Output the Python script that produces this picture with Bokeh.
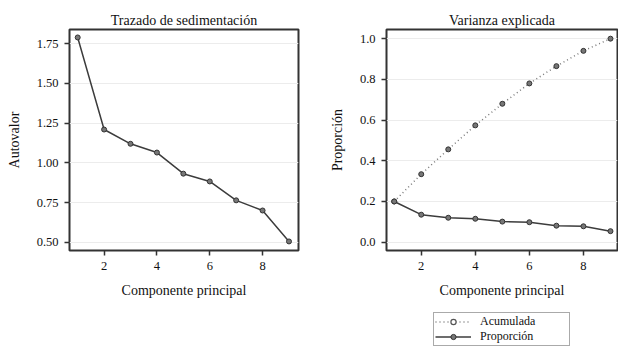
from bokeh.plotting import figure
from bokeh.layouts import row, column
from bokeh.models import Range1d, FixedTicker, Legend, LegendItem, NumeralTickFormatter
from bokeh.embed import file_html
from bokeh.resources import INLINE

componentes = [1, 2, 3, 4, 5, 6, 7, 8, 9]
autovalor = [1.79, 1.21, 1.12, 1.065, 0.932, 0.883, 0.764, 0.70, 0.505]
proporcion = [0.200, 0.135, 0.120, 0.115, 0.101, 0.098, 0.081, 0.078, 0.054]
acumulada = [0.200, 0.334, 0.456, 0.574, 0.680, 0.780, 0.865, 0.940, 1.000]

x_ticks = [2, 4, 6, 8]
y1_ticks = [0.50, 0.75, 1.00, 1.25, 1.50, 1.75]
y2_ticks = [0.0, 0.2, 0.4, 0.6, 0.8, 1.0]

titulo1 = "Trazado de sedimentación"
titulo2 = "Varianza explicada"
eje_x = "Componente principal"
eje_y1 = "Autovalor"
eje_y2 = "Proporción"
serie_acum = "Acumulada"
serie_prop = "Proporción"

FONT = "Liberation Serif"
DARK = "#333333"
LINE = "#3c3c3c"
DOT = "#7a7a7a"
MFILL = "#777777"


def style(p, xlab, ylab, yfmt):
    p.outline_line_color = DARK
    p.outline_line_width = 2
    p.xgrid.grid_line_color = None
    p.ygrid.grid_line_color = "#ececec"
    p.background_fill_color = "white"
    p.border_fill_color = "white"
    p.title.text_font = FONT
    p.title.text_font_size = "14px"
    p.title.text_font_style = "normal"
    p.title.align = "center"
    p.title.text_color = "#111111"
    p.title.standoff = 3
    p.xaxis.ticker = FixedTicker(ticks=x_ticks)
    p.xaxis.axis_label = xlab
    p.yaxis.axis_label = ylab
    p.yaxis.formatter = NumeralTickFormatter(format=yfmt)
    for ax in (p.xaxis[0], p.yaxis[0]):
        ax.axis_line_color = None
        ax.major_tick_line_color = DARK
        ax.major_tick_line_width = 1.5
        ax.major_tick_out = 5
        ax.major_tick_in = 0
        ax.minor_tick_line_color = None
        ax.major_label_text_font = FONT
        ax.major_label_text_font_size = "12.5px"
        ax.major_label_text_color = "#111111"
        ax.major_label_standoff = 6
        ax.axis_label_text_font = FONT
        ax.axis_label_text_font_size = "14px"
        ax.axis_label_text_font_style = "normal"
        ax.axis_label_text_color = "#111111"
    p.xaxis.axis_label_standoff = 10
    p.yaxis.axis_label_standoff = 12


p1 = figure(width=310, height=347, x_range=Range1d(0.69, 9.36), y_range=Range1d(0.448, 1.84),
            min_border_left=69, min_border_right=12, min_border_top=29, min_border_bottom=97,
            output_backend="svg", toolbar_location=None, title=titulo1)
style(p1, eje_x, eje_y1, "0.00")
p1.yaxis.ticker = FixedTicker(ticks=y1_ticks)
p1.line(componentes, autovalor, line_color=LINE, line_width=1.5)
p1.scatter(componentes, autovalor, size=5, fill_color=MFILL, line_color=DARK, line_width=1)

p2 = figure(width=308, height=310, x_range=Range1d(0.715, 9.26), y_range=Range1d(-0.041, 1.045),
            min_border_left=76, min_border_right=1, min_border_top=29, min_border_bottom=60,
            output_backend="svg", toolbar_location=None, title=titulo2)
style(p2, eje_x, eje_y2, "0.0")
p2.yaxis.ticker = FixedTicker(ticks=y2_ticks)
p2.line(componentes, acumulada, line_color=DOT, line_width=1.5, line_dash="1 3")
p2.scatter(componentes, acumulada, size=5, fill_color=MFILL, line_color=DARK, line_width=1)
p2.line(componentes, proporcion, line_color=LINE, line_width=1.5)
p2.scatter(componentes, proporcion, size=5, fill_color=MFILL, line_color=DARK, line_width=1)

# legend panel below the right chart: its own renderers hold the series
# values but sit outside the visible range, so only the legend keys show
p3 = figure(width=308, height=37, x_range=Range1d(100, 101), y_range=Range1d(100, 101),
            min_border_left=0, min_border_right=0, min_border_top=0, min_border_bottom=0,
            output_backend="svg", toolbar_location=None, x_axis_type=None, y_axis_type=None)
p3.outline_line_color = None
p3.grid.grid_line_color = None
p3.border_fill_color = "white"
la = p3.line(componentes, acumulada, line_color=DOT, line_width=1.5, line_dash="1 3")
sa = p3.scatter(componentes, acumulada, size=6, fill_color="white", line_color="#555555", line_width=1.2)
lp = p3.line(componentes, proporcion, line_color=LINE, line_width=1.5)
sp = p3.scatter(componentes, proporcion, size=6, fill_color=MFILL, line_color=DARK, line_width=1)

legend = Legend(items=[LegendItem(label=serie_acum, renderers=[la, sa]),
                       LegendItem(label=serie_prop, renderers=[lp, sp])],
                location=(47, 1), orientation="vertical")
legend.label_text_font = FONT
legend.label_text_font_size = "12px"
legend.label_text_color = "#111111"
legend.border_line_color = "#555555"
legend.border_line_width = 1
legend.background_fill_color = "white"
legend.padding = 1
legend.spacing = 0
legend.margin = 0
legend.glyph_width = 36
legend.glyph_height = 13
legend.label_height = 13
legend.label_width = 88
legend.label_standoff = 9
p3.add_layout(legend)

layout = row(p1, column(p2, p3))
open("out.html", "w").write(file_html(layout, INLINE))
